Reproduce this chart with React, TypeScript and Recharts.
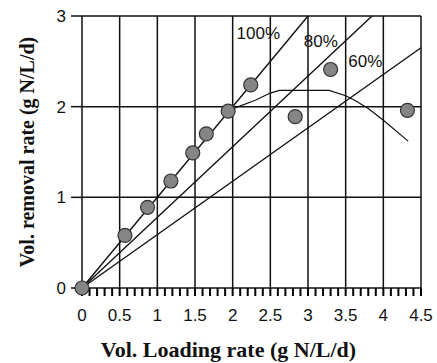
import React from 'react'
import { ComposedChart, XAxis, YAxis, Line, Scatter, ReferenceLine, ReferenceDot } from 'recharts'

// measured points
const points = [
  { x: 0, y: 0 },
  { x: 0.57, y: 0.58 },
  { x: 0.87, y: 0.89 },
  { x: 1.18, y: 1.18 },
  { x: 1.47, y: 1.49 },
  { x: 1.65, y: 1.7 },
  { x: 1.94, y: 1.95 },
  { x: 2.24, y: 2.24 },
  { x: 2.83, y: 1.89 },
  { x: 3.3, y: 2.41 },
  { x: 4.32, y: 1.96 },
]

// fitted curve
const curve = [
  { x: 1.98, y: 1.97 },
  { x: 2.3, y: 2.07 },
  { x: 2.5, y: 2.15 },
  { x: 2.62, y: 2.18 },
  { x: 3.28, y: 2.18 },
  { x: 3.5, y: 2.12 },
  { x: 3.62, y: 2.07 },
  { x: 3.8, y: 1.98 },
  { x: 4.0, y: 1.85 },
  { x: 4.33, y: 1.62 },
]

const line100 = [{ x: 0, y: 0 }, { x: 3, y: 3 }]
const line80 = [{ x: 0, y: 0 }, { x: 3.85, y: 3 }]
const line60 = [{ x: 0, y: 0 }, { x: 4.5, y: 2.65 }]

const lineLabels = [
  { text: '100%', x: 2.34, y: 2.81 },
  { text: '80%', x: 3.17, y: 2.72 },
  { text: '60%', x: 3.76, y: 2.5 },
]

const xMajor = [0, 0.5, 1, 1.5, 2, 2.5, 3, 3.5, 4, 4.5]
const xMinor = Array.from({ length: 46 }, (_, i) => i / 10)
const yTicks = [0, 1, 2, 3]

const xTitle = 'Vol. Loading rate (g N/L/d)'
const yTitle = 'Vol. removal rate (g N/L/d)'

const ink = '#111'
const sans = '"Liberation Sans", Arial, sans-serif'
const serif = '"Liberation Serif", "Times New Roman", serif'

const isMajor = (v: number) => xMajor.some((m) => Math.abs(m - v) < 1e-6)

const XTick = (props: any) => {
  const { x, y, payload } = props
  const v = payload.value
  if (!isMajor(v)) return <g />
  return (
    <text x={x} y={y + 25} textAnchor="middle" fontSize={17} fontFamily={sans} fill={ink}>
      {String(v)}
    </text>
  )
}

const Dot = (props: any) => {
  const { cx, cy } = props
  return <circle cx={cx} cy={cy} r={7} fill="#858585" stroke="#333" strokeWidth={1.2} />
}

const App = () => {
  return (
    <div style={{ position: 'absolute', left: 0, top: 0, width: 437, height: 363 }}>
      <ComposedChart width={437} height={363} margin={{ top: 16, right: 16, left: 0, bottom: 0 }}>
        <XAxis
          dataKey="x"
          type="number"
          domain={[0, 4.5]}
          ticks={xMinor}
          interval={0}
          tickSize={8}
          tickMargin={0}
          tickLine={{ stroke: '#000', strokeWidth: 2 }}
          tick={<XTick />}
          axisLine={{ stroke: ink, strokeWidth: 1.5 }}
          height={75}
          label={{
            value: xTitle,
            position: 'insideBottom',
            offset: 6,
            dx: -23,
            fontSize: 22,
            fontWeight: 'bold',
            fontFamily: serif,
            fill: ink,
          }}
        />
        <YAxis
          dataKey="y"
          type="number"
          domain={[0, 3]}
          ticks={yTicks}
          interval={0}
          tickSize={11}
          tickMargin={5}
          tickLine={{ stroke: ink, strokeWidth: 1.5 }}
          axisLine={{ stroke: ink, strokeWidth: 1.5 }}
          tick={{ fill: ink, fontSize: 17, fontFamily: sans }}
          width={82}
          label={{
            value: yTitle,
            position: 'center',
            angle: -90,
            dx: -14,
            fontSize: 20,
            fontWeight: 'bold',
            fontFamily: serif,
            fill: ink,
          }}
        />
        {xMajor.slice(1).map((v) => (
          <ReferenceLine key={'vx' + v} x={v} stroke={ink} strokeWidth={1.5} />
        ))}
        {yTicks.slice(1).map((v) => (
          <ReferenceLine key={'hy' + v} y={v} stroke={ink} strokeWidth={1.5} />
        ))}
        <Line data={line100} dataKey="y" type="linear" stroke={ink} strokeWidth={1.4} dot={false} isAnimationActive={false} />
        <Line data={line80} dataKey="y" type="linear" stroke={ink} strokeWidth={1.4} dot={false} isAnimationActive={false} />
        <Line data={line60} dataKey="y" type="linear" stroke={ink} strokeWidth={1.4} dot={false} isAnimationActive={false} />
        <Line data={curve} dataKey="y" type="linear" stroke={ink} strokeWidth={1.2} dot={false} isAnimationActive={false} />
        <Scatter data={points} dataKey="y" shape={<Dot />} isAnimationActive={false} />
        {lineLabels.map((l) => (
          <ReferenceDot
            key={l.text}
            x={l.x}
            y={l.y}
            r={0}
            stroke="none"
            fill="none"
            label={{ value: l.text, position: 'center', fontSize: 17, fontFamily: sans, fill: ink }}
          />
        ))}
      </ComposedChart>
    </div>
  )
}

export default App
